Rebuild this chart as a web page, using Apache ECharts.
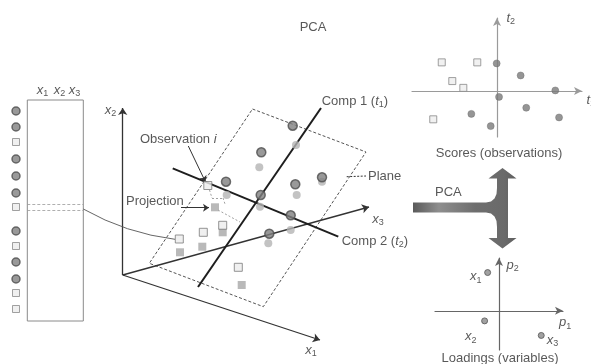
<!DOCTYPE html>
<html>
<head>
<meta charset="utf-8">
<script src="https://cdn.jsdelivr.net/npm/echarts@6/dist/echarts.min.js"></script>
<style>
  html, body { margin: 0; padding: 0; background: #fff; }
  #chart { width: 591px; height: 364px; }
</style>
</head>
<body>
<div id="chart"></div>
<script>
// scores plot (t1, t2)
const scoreSquares = [[-3.25, 1.69], [-1.16, 1.69], [-2.63, 0.59], [-1.98, 0.19], [-3.75, -1.66]];
const scoreCircles = [[-0.02, 1.63], [1.39, 0.92], [3.43, 0.04], [0.12, -0.34], [1.72, -0.98], [-1.51, -1.34], [3.65, -1.55], [-0.37, -2.06]];

// loadings plot (p1, p2)
const loadingNames = ['x1', 'x2', 'x3'];
const loadingValues = [[-0.71, 2.39], [-0.9, -0.63], [2.64, -1.54]];

// data table: kind of each observation row (c = circle, s = square) and its row position
const tableRowKinds = ['c', 'c', 's', 'c', 'c', 'c', 's', 'c', 's', 'c', 'c', 's', 's'];
const tableRowY = [111, 127, 142, 159, 176, 193, 207, 231, 246, 262, 279, 293, 309];

// 3D sketch, in page space
const obsCircles = [[292.7, 125.7], [261.3, 152.3], [226, 181.7], [295.3, 184.3], [322, 177.3], [260.7, 195], [290.7, 215.3], [269.3, 233.7]];
const projCircles = [[296, 145], [259.3, 167.3], [226.7, 195], [296.7, 195], [322, 181.7], [260, 206.7], [290.7, 230], [268.3, 243.3]];
const obsSquares = [[207.8, 185.5], [222.7, 225.3], [203.3, 232.3], [179.3, 239], [238.3, 267.3]];
const projSquares = [[215, 207.3], [222.7, 232.3], [202.3, 246.7], [180, 252.3], [241.7, 285]];

const sketchAxes = [
  [[122.7, 275], [320, 340]],
  [[122.7, 275], [122.7, 108]],
  [[122.7, 275], [369, 207]]
];
const compLines = [
  [[198, 287], [321, 108]],
  [[172.7, 168.3], [338.3, 236.7]]
];
const planeOutline = [[252.5, 109], [366, 152], [263.3, 306.7], [149.3, 263.3], [252.5, 109]];
const tableOutline = [[27.3, 100], [83.3, 100], [83.3, 321], [27.3, 321], [27.3, 100]];
const tableRowLines = [
  [[27.3, 204], [83.3, 204]],
  [[27.3, 210], [83.3, 210]]
];
const pointerArrows = [
  [[188.3, 146], [205.5, 182]],
  [[181, 207.7], [209, 207.7]]
];
const rowLink = [[83.3, 209], [175, 239.3]];
const projGuides = [
  [[209.5, 190], [212, 198]],
  [[212, 198], [223, 198]],
  [[223, 198], [225, 204]],
  [[218, 210], [240, 222]]
];
const planeLeader = [[346.7, 176.7], [366, 176]];
const pcaArrow = [
  [413, 202.5], [486, 202.5], [491, 201.5], [494.5, 198.5], [496.5, 194], [497, 188], [497, 178.5],
  [488.5, 178.5], [502.5, 168], [516.5, 178.5], [508, 178.5], [508, 238], [516.5, 238],
  [502.5, 248.5], [488.5, 238], [497, 238], [497, 227], [496.5, 221], [494.5, 216.5],
  [491, 213.5], [486, 212.5], [413, 212.5]
];

// text labels: [x, y, text, align]
const labels = [
  [313, 27, 'PCA', 'center'],
  [42.5, 90, '{v|x}{s|1}', 'center'],
  [59.5, 90, '{v|x}{s|2}', 'center'],
  [74.5, 90, '{v|x}{s|3}', 'center'],
  [110.5, 110, '{v|x}{s|2}', 'center'],
  [311, 350, '{v|x}{s|1}', 'center'],
  [378, 219, '{v|x}{s|3}', 'center'],
  [140, 139, 'Observation {v|i}', 'left'],
  [126, 201, 'Projection', 'left'],
  [321.7, 101.5, 'Comp 1 ({v|t}{s|1})', 'left'],
  [341.7, 241.5, 'Comp 2 ({v|t}{s|2})', 'left'],
  [368, 176, 'Plane', 'left'],
  [435, 192, 'PCA', 'left'],
  [499, 153, 'Scores (observations)', 'center'],
  [500, 358.5, 'Loadings (variables)', 'center'],
  [506.5, 18, '{v|t}{s|2}', 'left'],
  [586.5, 100, '{v|t}{s|1}', 'left'],
  [506.5, 265, '{v|p}{s|2}', 'left'],
  [559, 322.7, '{v|p}{s|1}', 'left'],
  [470, 276.7, '{v|x}{s|1}', 'left'],
  [465, 336.7, '{v|x}{s|2}', 'left'],
  [546.7, 340, '{v|x}{s|3}', 'left']
];

const chart = echarts.init(document.getElementById('chart'));
const font = "'Liberation Sans', Arial, sans-serif";
const hidden = { show: false };

const lines = (data, style, extra) => Object.assign({
  type: 'lines', coordinateSystem: 'cartesian2d', xAxisIndex: 0, yAxisIndex: 0,
  silent: true, symbol: 'none', lineStyle: Object.assign({ opacity: 1, curveness: 0 }, style),
  data: data.map(c => ({ coords: c }))
}, extra || {});

const sketchDots = (data, symbol, size, itemStyle) => ({
  type: 'scatter', xAxisIndex: 0, yAxisIndex: 0, silent: true,
  symbol: symbol, symbolSize: size, itemStyle: itemStyle, data: data, z: 5
});

const plotAxis = (grid, min, max, color) => ({
  gridIndex: grid, type: 'value', min: min, max: max,
  axisLine: { onZero: true, symbol: ['none', 'arrow'], symbolSize: [6, 8], lineStyle: { color: color, width: 1.2 } },
  axisTick: hidden, axisLabel: hidden, splitLine: hidden
});

const option = {
  backgroundColor: '#fff',
  animation: false,
  grid: [
    { left: 0, right: 0, top: 0, bottom: 0, outerBoundsMode: 'none' },
    { left: 412, width: 170, top: 18, height: 119, outerBoundsMode: 'none' },
    { left: 435, width: 128, top: 258, height: 92, outerBoundsMode: 'none' }
  ],
  xAxis: [
    { gridIndex: 0, type: 'value', min: 0, max: 591, show: false },
    plotAxis(1, -5, 5, '#9a9a9a'),
    plotAxis(2, -4, 4, '#666')
  ],
  yAxis: [
    { gridIndex: 0, type: 'value', min: 0, max: 364, inverse: true, show: false },
    plotAxis(1, -2.7, 4.3, '#9a9a9a'),
    plotAxis(2, -2.45, 3.3, '#666')
  ],
  series: [
    {
      type: 'custom', coordinateSystem: 'cartesian2d', xAxisIndex: 0, yAxisIndex: 0, silent: true,
      data: [0],
      renderItem: (params, api) => ({
        type: 'polygon',
        shape: { points: pcaArrow.map(p => api.coord(p)) },
        style: {
          fill: new echarts.graphic.LinearGradient(0, 0, 1, 0, [
            { offset: 0, color: '#5a5a5a' },
            { offset: 0.25, color: '#8e8e8e' },
            { offset: 0.6, color: '#6e6e6e' },
            { offset: 0.88, color: '#6a6a6a' },
            { offset: 1, color: '#5e5e5e' }
          ])
        }
      })
    },
    lines([tableOutline], { color: '#8a8a8a', width: 1 }, { polyline: true }),
    lines(tableRowLines, { color: '#9a9a9a', width: 0.8, type: [3, 2] }),
    lines([planeOutline], { color: '#555', width: 1, type: [3, 2] }, { polyline: true }),
    lines(sketchAxes, { color: '#333', width: 1.3 }, { symbol: ['none', 'arrow'], symbolSize: 7 }),
    lines(compLines, { color: '#1e1e1e', width: 2 }),
    lines(pointerArrows, { color: '#333', width: 1 }, { symbol: ['none', 'arrow'], symbolSize: 6 }),
    lines([rowLink], { color: '#555', width: 0.9, curveness: -0.1 }),
    lines(projGuides, { color: '#888', width: 0.8, type: [2, 2] }),
    lines([planeLeader], { color: '#333', width: 1, type: [2, 1.5] }),
    sketchDots(projCircles, 'circle', 8, { color: '#b4b4b4' }),
    sketchDots(projSquares, 'rect', 8, { color: '#a8a8a8' }),
    sketchDots(obsCircles, 'circle', 9, { color: '#808080', borderColor: '#4e4e4e', borderWidth: 1.5 }),
    sketchDots(obsSquares, 'rect', 8, { color: '#ececec', borderColor: '#7a7a7a', borderWidth: 1 }),
    sketchDots(tableRowY.filter((y, i) => tableRowKinds[i] === 'c').map(y => [16, y]), 'circle', 8,
      { color: '#808080', borderColor: '#4e4e4e', borderWidth: 1.5 }),
    sketchDots(tableRowY.filter((y, i) => tableRowKinds[i] === 's').map(y => [16, y]), 'rect', 7,
      { color: '#ececec', borderColor: '#8a8a8a', borderWidth: 1 }),
    {
      type: 'scatter', xAxisIndex: 1, yAxisIndex: 1, silent: true, symbol: 'rect', symbolSize: 7,
      itemStyle: { color: '#eeeeee', borderColor: '#888', borderWidth: 1 }, data: scoreSquares
    },
    {
      type: 'scatter', xAxisIndex: 1, yAxisIndex: 1, silent: true, symbol: 'circle', symbolSize: 7,
      itemStyle: { color: '#7a7a7a', borderColor: '#666', borderWidth: 0.5 }, data: scoreCircles
    },
    {
      type: 'scatter', xAxisIndex: 2, yAxisIndex: 2, silent: true, symbol: 'circle', symbolSize: 6,
      itemStyle: { color: '#8a8a8a', borderColor: '#555', borderWidth: 1 },
      data: loadingValues.map((v, i) => ({ name: loadingNames[i], value: v }))
    },
    {
      type: 'scatter', xAxisIndex: 0, yAxisIndex: 0, silent: true, symbolSize: 0, z: 10,
      data: labels.map(l => ({
        value: [l[0], l[1]],
        label: { formatter: l[2], align: l[3] }
      })),
      label: {
        show: true, position: [0, 0], verticalAlign: 'middle',
        color: '#2e2e2e', fontFamily: font, fontSize: 13, lineHeight: 16,
        rich: {
          v: { fontStyle: 'italic', fontFamily: font, fontSize: 13, lineHeight: 16, color: '#2e2e2e' },
          s: { fontFamily: font, fontSize: 9, lineHeight: 9, verticalAlign: 'bottom', color: '#2e2e2e' }
        }
      }
    }
  ]
};
chart.setOption(option);
</script>
</body>
</html>
